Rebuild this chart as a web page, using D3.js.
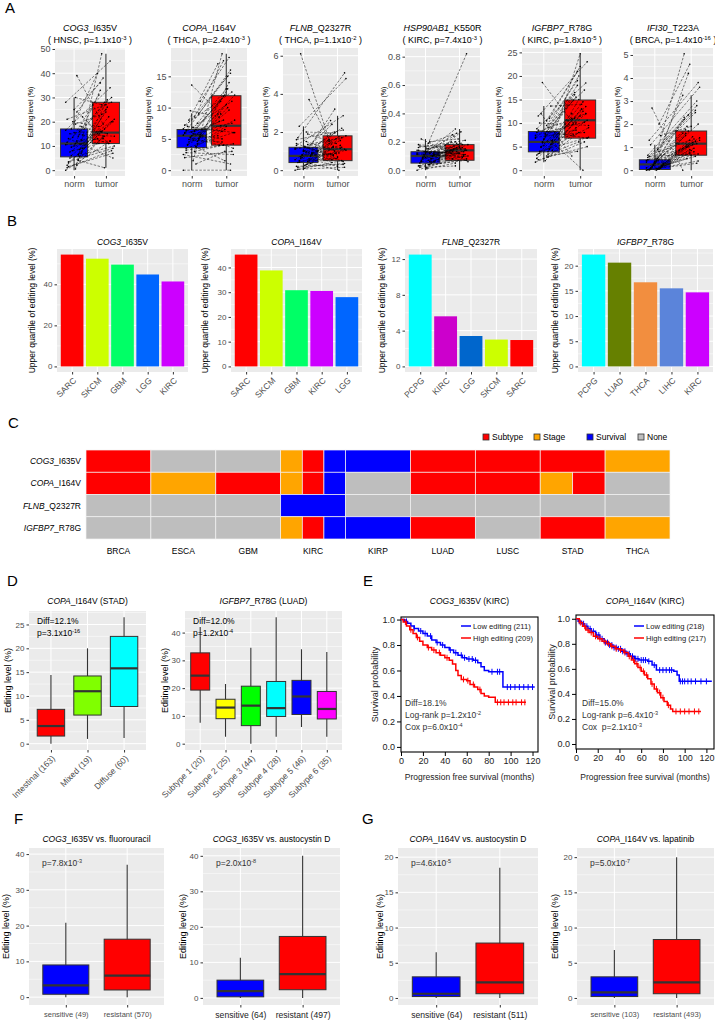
<!DOCTYPE html>
<html>
<head>
<meta charset="utf-8">
<script src="https://cdn.jsdelivr.net/npm/d3@7"></script>
<style>
  body { margin: 0; background: #fff; }
  text { white-space: pre; }
</style>
</head>
<body>
<div id="fig"></div>
<script>
// ---------- A: paired normal / tumour editing ----------
const aGenes = ["COG3", "COPA", "FLNB", "HSP90AB1", "IGFBP7", "IFI30"];
const aSites = ["_I635V", "_I164V", "_Q2327R", "_K550R", "_R78G", "_T223A"];
const aTumors = ["HNSC", "THCA", "THCA", "KIRC", "KIRC", "BRCA"];
const aPval = ["1.1x10^{-3}", "2.4x10^{-3}", "1.1x10^{-2}", "7.4x10^{-3}", "1.8x10^{-5}", "1.4x10^{-16}"];
const aTicks = [[0, 10, 20, 30, 40, 50], [0, 5, 10, 15], [0, 2, 4, 6], [0, 0.2, 0.4, 0.6, 0.8], [0, 5, 10, 15, 20, 25], [0, 1, 2, 3, 4, 5]];
// [lower whisker, q1, median, q3, upper whisker]
const aNormBox = [[0, 5.5, 11, 17, 30], [0, 3.6, 5.5, 6.5, 9.1], [0, 0.4, 0.75, 1.2, 2.3], [0, 0.05, 0.1, 0.13, 0.22], [1.7, 3.9, 6, 8.2, 13.6], [0, 0.03, 0.25, 0.45, 1.1]];
const aTumorBox = [[1, 11, 15.5, 28, 48], [0, 4, 7.1, 11.9, 18.6], [0, 0.5, 1.1, 1.8, 2.85], [0, 0.07, 0.14, 0.18, 0.29], [0, 6.8, 10.6, 14.9, 24.7], [0, 0.65, 1.15, 1.7, 3.25]];
const aNorm = [
  [0, 0.5, 1, 2, 3, 4, 5, 5.5, 6, 7, 8, 9, 10, 10.5, 11, 11.5, 12, 13, 14, 15, 16, 17, 18, 20, 22, 25, 28, 30, 2, 39,
   3.5, 6.5, 7.5, 8.5, 9.5, 12.5, 13.5, 14.5, 15.5, 16.5, 19, 21, 24, 1.5, 4.5],
  [0, 1.5, 2, 3, 3.5, 3.7, 4, 4.2, 4.5, 5, 5.2, 5.4, 5.5, 5.6, 5.8, 6, 6.2, 6.4, 6.5, 7, 7.5, 8, 9, 9.5, 11, 13.6, 2.5, 4.8, 5.9, 6.3,
   3.2, 3.8, 4.1, 4.6, 4.9, 5.1, 5.3, 5.7, 6.1, 6.6, 6.8, 7.2, 8.5, 2.8, 1],
  [0, 0.1, 0.2, 0.3, 0.4, 0.45, 0.5, 0.6, 0.7, 0.75, 0.8, 0.9, 1.0, 1.1, 1.2, 1.3, 1.5, 1.7, 1.9, 2.3, 3.7, 6.1, 0.35, 0.65, 0.85, 1.05, 0.55, 0.25, 1.4, 0.95,
   0.15, 0.32, 0.42, 0.52, 0.62, 0.72, 0.78, 0.88, 0.98, 1.15, 1.25, 1.6, 2.0, 0.05, 1.35],
  [0, 0.01, 0.03, 0.04, 0.05, 0.06, 0.07, 0.08, 0.09, 0.1, 0.1, 0.11, 0.12, 0.12, 0.13, 0.14, 0.15, 0.17, 0.2, 0.22, 0.05, 0.08, 0.1, 0.13, 0.06, 0.09, 0.11, 0.02, 0.16, 0.07,
   0.02, 0.04, 0.06, 0.08, 0.09, 0.1, 0.11, 0.12, 0.13, 0.14, 0.15, 0.18, 0.19, 0.03, 0.12],
  [1.7, 2, 2.5, 3, 3.5, 3.9, 4, 4.5, 5, 5.5, 6, 6, 6.5, 7, 7.5, 8, 8.2, 8.5, 9, 10, 11, 12, 13.6, 18.6, 4.2, 5.2, 6.8, 7.2, 3.2, 9.5,
   2.2, 2.8, 3.6, 4.4, 4.8, 5.4, 5.8, 6.3, 6.6, 7.4, 7.8, 8.8, 10.5, 11.5, 3.4],
  [0, 0, 0.02, 0.05, 0.05, 0.08, 0.1, 0.12, 0.15, 0.2, 0.25, 0.25, 0.3, 0.35, 0.4, 0.45, 0.5, 0.6, 0.8, 1.1, 1.5, 2.7, 0.18, 0.22, 0.3, 0.38, 0.1, 0.07, 0.55, 0.03,
   0.01, 0.04, 0.06, 0.09, 0.13, 0.16, 0.21, 0.27, 0.33, 0.42, 0.48, 0.65, 0.9, 1.3, 2.0]
];
const aTumor = [
  [12, 48, 8, 14, 20, 1, 10, 25, 15, 29, 11, 22, 33, 12, 16, 30, 13, 5, 28, 14, 27, 40, 15, 18, 11, 36, 45, 27, 20, 19,
   9, 17, 21, 24, 13, 26, 31, 11, 16, 34, 23, 28, 38, 7, 14],
  [0, 18.6, 3, 4, 6, 1.5, 12, 7, 9, 10, 4, 14, 7.1, 16, 5, 11, 8, 3.5, 12, 6, 13, 17, 15, 8.5, 18, 9, 1, 4.5, 7.5, 11.8,
   4.2, 6.5, 8, 10.5, 5.5, 13, 7.8, 9.6, 11, 15.5, 6.2, 12.5, 17.5, 2.5, 3],
  [0.5, 1.2, 0.3, 2.0, 1.1, 0.6, 1.8, 0.2, 1.5, 0.9, 2.6, 1.3, 0.4, 1.7, 0.8, 2.85, 1.0, 5.1, 1.4, 4.8, 0.7, 1.6, 0, 1.9, 1.15, 0.55, 2.2, 1.25, 0.45, 3.2,
   0.35, 0.9, 1.05, 0.65, 1.4, 1.75, 0.85, 1.55, 2.4, 1.2, 0.75, 2.1, 1.95, 0.15, 1.65],
  [0.1, 0.05, 0.14, 0.16, 0.82, 0.07, 0.18, 0.12, 0.2, 0.15, 0.25, 0.09, 0.17, 0.13, 0.29, 0.11, 0.19, 0.14, 0.22, 0.06, 0.16, 0.12, 0.27, 0.08, 0.18, 0.15, 0.1, 0.03, 0.21, 0.13,
   0.08, 0.12, 0.1, 0.17, 0.14, 0.19, 0.13, 0.16, 0.24, 0.11, 0.2, 0.15, 0.26, 0.07, 0.18],
  [6, 9, 12, 4, 10.6, 15, 7, 24.7, 11, 13, 14.9, 0, 16, 8, 10, 12, 18, 6.8, 20, 9.5, 22, 3, 14, 10, 12.5, 11, 17, 8.5, 13.5, 19,
   5, 8, 9, 11.5, 12, 13, 7.5, 14.5, 16.5, 10.2, 15.5, 18.5, 21, 23, 6],
  [0.6, 1.1, 0.3, 1.7, 2.0, 0.9, 1.4, 0.65, 3.25, 1.2, 5.05, 0.8, 1.6, 2.5, 1.0, 1.15, 4.2, 0.7, 1.3, 3.6, 1.9, 0, 1.45, 2.3, 0.95, 1.75, 1.25, 0.5, 2.8, 1.05,
   0.4, 0.75, 1.3, 0.85, 1.6, 1.1, 2.2, 1.35, 1.5, 2.6, 1.9, 3.0, 2.4, 3.8, 4.6]
];

// ---------- B: upper quartile per cancer ----------
const bTitles = ["*COG3*_I635V", "*COPA*_I164V", "*FLNB*_Q2327R", "*IGFBP7*_R78G"];
const bCancers = [["SARC", "SKCM", "GBM", "LGG", "KIRC"], ["SARC", "SKCM", "GBM", "KIRC", "LGG"], ["PCPG", "KIRC", "LGG", "SKCM", "SARC"], ["PCPG", "LUAD", "THCA", "LIHC", "KIRC"]];
const bValues = [[54.5, 52.5, 49.6, 44.8, 41.4], [45.2, 38.8, 30.8, 30.5, 28.0], [12.5, 5.6, 3.4, 3.0, 2.95], [22.2, 20.6, 16.7, 15.5, 14.7]];
const bTicks = [[0, 20, 40], [0, 10, 20, 30, 40], [0, 4, 8, 12], [0, 5, 10, 15, 20]];

// ---------- C: significant associations ----------
const cGenes = ["*COG3*_I635V", "*COPA*_I164V", "*FLNB*_Q2327R", "*IGFBP7*_R78G"];
const cCancers = ["BRCA", "ESCA", "GBM", "KIRC", "KIRP", "LUAD", "LUSC", "STAD", "THCA"];
const cCalls = [
  [["Subtype"], ["None"], ["None"], ["Stage", "Subtype", "Survival"], ["Survival"], ["Subtype"], ["Subtype"], ["Subtype"], ["Stage"]],
  [["Subtype"], ["Stage"], ["Subtype"], ["Stage", "Subtype", "Survival"], ["None"], ["Subtype"], ["Subtype"], ["Stage", "Subtype"], ["None"]],
  [["None"], ["None"], ["None"], ["Survival"], ["None"], ["None"], ["None"], ["None"], ["None"]],
  [["None"], ["None"], ["None"], ["Stage", "Subtype", "Survival"], ["Survival"], ["Subtype"], ["None"], ["Subtype"], ["Stage"]]
];
const cLegend = ["Subtype", "Stage", "Survival", "None"];

// ---------- D: editing by subtype ----------
const dLeftGroups = ["Intestinal (163)", "Mixed (19)", "Diffuse (60)"];
const dLeftBoxes = [[0, 1.6, 3.7, 7.2, 14.4], [1, 6, 11, 14.2, 20], [1.2, 7.8, 15.8, 22.5, 26.5]];
const dRightGroups = ["Subtype 1 (20)", "Subtype 2 (25)", "Subtype 3 (44)", "Subtype 4 (28)", "Subtype 5 (46)", "Subtype 6 (35)"];
const dRightBoxes = [[7.5, 19.3, 24.5, 32.7, 42], [2.5, 9, 13, 16, 21.5], [0, 6.5, 13.7, 20.7, 34.5], [2.5, 9.8, 12.8, 22.4, 45.5], [6, 10.5, 17, 22.8, 34], [2.5, 8.9, 12.5, 18.8, 33]];
const dText = [["Diff=12.1%", "p=3.1x10^{-16}"], ["Diff=12.0%", "p=1.2x10^{-4}"]];

// ---------- E: progression free survival ----------
const eTitles = ["*COG3*_I635V (KIRC)", "*COPA*_I164V (KIRC)"];
const eLegend = [["Low editing (211)", "High editing (209)"], ["Low editing (218)", "High editing (217)"]];
const eStats = [["Diff=18.1%", "Log-rank p=1.2x10^{-2}", "Cox p=6.0x10^{-4}"], ["Diff=15.0%", "Log-rank p=6.4x10^{-3}", "Cox  p=2.1x10^{-3}"]];
const eLowSteps = [
  [[0, 1], [3, 0.985], [6, 0.97], [9, 0.95], [12, 0.93], [16, 0.91], [20, 0.89], [24, 0.87], [28, 0.84], [32, 0.82], [36, 0.8], [40, 0.78], [44, 0.76], [48, 0.74], [52, 0.72], [56, 0.7], [60, 0.69], [66, 0.68], [70, 0.66], [73, 0.63], [76, 0.6], [80, 0.59], [93, 0.47]],
  [[0, 1], [2, 0.98], [5, 0.96], [8, 0.94], [11, 0.92], [14, 0.9], [18, 0.87], [22, 0.84], [26, 0.81], [30, 0.79], [34, 0.77], [38, 0.76], [42, 0.74], [46, 0.72], [50, 0.7], [54, 0.68], [58, 0.67], [66, 0.66], [70, 0.63], [74, 0.59], [90, 0.58], [93, 0.55], [95, 0.5]]
];
const eHighSteps = [
  [[0, 1], [2, 0.98], [5, 0.95], [8, 0.92], [11, 0.89], [14, 0.86], [17, 0.83], [20, 0.8], [24, 0.78], [28, 0.76], [32, 0.74], [36, 0.72], [40, 0.7], [44, 0.68], [47, 0.65], [50, 0.6], [52, 0.56], [55, 0.53], [60, 0.52], [63, 0.49], [67, 0.47], [70, 0.45], [73, 0.42], [76, 0.4], [80, 0.39], [86, 0.35]],
  [[0, 1], [3, 0.97], [6, 0.94], [9, 0.91], [12, 0.89], [16, 0.86], [20, 0.84], [24, 0.82], [28, 0.8], [32, 0.78], [36, 0.76], [40, 0.75], [44, 0.73], [48, 0.7], [51, 0.67], [54, 0.64], [57, 0.61], [60, 0.58], [63, 0.55], [66, 0.52], [69, 0.48], [72, 0.44], [75, 0.41], [78, 0.37], [81, 0.34], [84, 0.31], [87, 0.28], [89, 0.26]]
];
const eLowEnd = [122, 125];
const eHighEnd = [114, 115];
const eLowCensor = [
  [5, 12, 18, 22, 27, 33, 38, 45, 50, 55, 58, 62, 65, 68, 83, 88, 90, 97, 100, 104, 108, 112, 116, 120],
  [3, 7, 10, 13, 16, 19, 21, 24, 27, 29, 31, 33, 35, 37, 39, 41, 43, 45, 47, 49, 52, 55, 57, 60, 62, 64, 67, 72, 77, 80, 83, 86, 88, 96, 98, 100, 103, 106, 110, 115, 120]
];
const eHighCensor = [
  [4, 9, 15, 25, 30, 35, 42, 57, 61, 66, 72, 88, 91, 94, 98, 102, 105, 110, 113],
  [4, 8, 11, 14, 18, 22, 26, 30, 33, 37, 41, 45, 49, 53, 56, 59, 62, 65, 70, 74, 77, 80, 85, 92, 96, 100, 104, 109, 113]
];
const eXTicks = [0, 20, 40, 60, 80, 100, 120];
const eYTicks = [0, 0.2, 0.4, 0.6, 0.8, 1.0];

// ---------- F / G: drug response ----------
const fgTitles = ["*COG3*_I635V vs. fluorouracil", "*COG3*_I635V vs. austocystin D", "*COPA*_I164V vs. austocystin D", "*COPA*_I164V vs. lapatinib"];
const fgGroups = [["sensitive (49)", "resistant (570)"], ["sensitive (64)", "resistant (497)"], ["sensitive (64)", "resistant (511)"], ["sensitive (103)", "resistant (493)"]];
const fgBoxes = [
  [[0, 0.8, 3.3, 9, 20.8], [0, 2, 6, 16.2, 37]],
  [[0, 0.3, 1.9, 5, 11.3], [0, 2.3, 6.7, 17.3, 40]],
  [[0, 0.2, 0.6, 3, 6.5], [0, 0.6, 2.2, 7.8, 18.5]],
  [[0, 0.2, 0.8, 3, 6.8], [0, 0.6, 2.2, 8.3, 20]]
];
const fgP = ["p=7.8x10^{-3}", "p=2.0x10^{-8}", "p=4.6x10^{-5}", "p=5.0x10^{-7}"];
const fgTicks = [[0, 10, 20, 30, 40], [0, 10, 20, 30, 40], [0, 5, 10, 15, 20], [0, 5, 10, 15, 20]];
const fgDomains = [[-2.2, 41.7], [-2, 42.2], [-1, 21.3], [-1, 21.3]];

// ================= drawing =================
const RED = "#FF0000", BLUE = "#0000FF", ORANGE = "#FFA500", GREY = "#BEBEBE";

const svg = d3.select("#fig").append("svg")
  .attr("width", 715).attr("height", 1020)
  .style("font-family", '"Liberation Sans", Arial, sans-serif')
  .style("background", "#fff");

// "*x*" = italic, "^{x}" = superscript
function rich(t, str, size) {
  const parts = str.split(/(\*[^*]+\*|\^\{[^}]+\})/).filter(s => s.length);
  let up = false;
  parts.forEach(p => {
    const ts = t.append("tspan");
    if (p.startsWith("^{")) {
      ts.text(p.slice(2, -1)).attr("font-size", size * 0.65).attr("dy", -size * 0.38);
      up = true;
    } else {
      if (p.startsWith("*")) ts.text(p.slice(1, -1)).attr("font-style", "italic");
      else ts.text(p);
      if (up) { ts.attr("dy", size * 0.38); up = false; }
    }
  });
  return t;
}

function txt(g, x, y, str, size, anchor, rot, fill) {
  const t = g.append("text")
    .attr("x", x).attr("y", y)
    .attr("font-size", size)
    .attr("fill", fill || "#000")
    .attr("text-anchor", anchor || "start");
  if (rot) t.attr("transform", `rotate(${rot},${x},${y})`);
  return rich(t, str, size);
}

function styleAxis(ax, size, color) {
  ax.attr("font-family", null).attr("font-size", size);
  ax.select(".domain").remove();
  ax.selectAll(".tick line").attr("stroke", "#333");
  ax.selectAll(".tick text").attr("fill", color || "#4D4D4D");
}

// ggplot2 grey panel with grid and left axis
function ggPanel(g, x0, x1, y0, y1, y, ticks, xs, tickSize) {
  g.append("rect").attr("x", x0).attr("y", y0)
    .attr("width", x1 - x0).attr("height", y1 - y0).attr("fill", "#EBEBEB");
  const [d0, d1] = y.domain(), step = ticks[1] - ticks[0];
  const minor = d3.range(ticks[0] - step / 2, d1, step).filter(v => v > d0);
  const grid = (vals, w) => g.append("g").selectAll("line").data(vals).join("line")
    .attr("x1", x0).attr("x2", x1)
    .attr("y1", d => y(d)).attr("y2", d => y(d))
    .attr("stroke", "#fff").attr("stroke-width", w);
  grid(minor, 0.5);
  grid(ticks, 1);
  if (xs) g.append("g").selectAll("line").data(xs.domain()).join("line")
    .attr("x1", d => xs(d)).attr("x2", d => xs(d))
    .attr("y1", y0).attr("y2", y1)
    .attr("stroke", "#fff").attr("stroke-width", 1);
  const fmt = step < 1 ? d3.format(".1f") : d3.format("d");
  const ax = g.append("g").attr("transform", `translate(${x0},0)`)
    .call(d3.axisLeft(y).tickValues(ticks).tickFormat(fmt).tickSize(2.5).tickPadding(2));
  styleAxis(ax, tickSize);
}

function xAxis(g, xs, y1, size, rotate, pad) {
  const ax = g.append("g").attr("transform", `translate(0,${y1})`)
    .call(d3.axisBottom(xs).tickSize(2.5).tickPadding(pad || 2));
  styleAxis(ax, size);
  if (rotate) {
    ax.selectAll(".tick text")
      .attr("x", 0).attr("y", 0).attr("dy", "0.35em")
      .attr("text-anchor", "end")
      .attr("transform", `translate(2,7) rotate(-${rotate})`);
  }
  return ax;
}

function drawBoxes(g, xs, y, stats, colors, bw) {
  stats.forEach((s, i) => {
    const cx = xs(xs.domain()[i]);
    g.append("line").attr("x1", cx).attr("x2", cx)
      .attr("y1", y(s[0])).attr("y2", y(s[4]))
      .attr("stroke", "#333").attr("stroke-width", 1.1);
    g.append("rect").attr("x", cx - bw / 2).attr("y", y(s[3]))
      .attr("width", bw).attr("height", y(s[1]) - y(s[3]))
      .attr("fill", colors[i]).attr("stroke", "#333").attr("stroke-width", 1);
    g.append("line").attr("x1", cx - bw / 2).attr("x2", cx + bw / 2)
      .attr("y1", y(s[2])).attr("y2", y(s[2]))
      .attr("stroke", "#333").attr("stroke-width", 2.2);
  });
}

// panel letters
[["A", 5, 13], ["B", 7, 226], ["C", 8, 428], ["D", 7, 586], ["E", 363, 586], ["F", 14, 824], ["G", 362, 824]]
  .forEach(([l, x, y]) => svg.append("text").attr("x", x).attr("y", y).attr("font-size", 15).text(l));

// ----- A -----
const aPanelX = [[55, 125], [171, 247], [283, 358], [405, 480], [522, 602], [633, 713]];
const aYlabX = [33, 151, 268, 386, 501, 620];
const jit = j => ((j * 7) % 13 - 6) * 1.4;
aGenes.forEach((gene, i) => {
  const [x0, x1] = aPanelX[i], y0 = 48, y1 = 176;
  const g = svg.append("g");
  const M = d3.max([...aNorm[i], ...aTumor[i], aNormBox[i][4], aTumorBox[i][4]]);
  const y = d3.scaleLinear().domain([-0.05 * M, 1.05 * M]).range([y1, y0]);
  const xs = d3.scalePoint().domain(["norm", "tumor"]).range([x0, x1]).padding(0.6);
  ggPanel(g, x0, x1, y0, y1, y, aTicks[i], xs, 9);
  xAxis(g, xs, y1, 9);
  drawBoxes(g, xs, y, [aNormBox[i], aTumorBox[i]], [BLUE, RED], xs.step() * 0.85);
  const pairs = aNorm[i].map((v, j) => [v, aTumor[i][j]]);
  g.append("g").selectAll("line").data(pairs).join("line")
    .attr("x1", (d, j) => xs("norm") + jit(j)).attr("y1", d => y(d[0]))
    .attr("x2", (d, j) => xs("tumor") + jit(j + 5)).attr("y2", d => y(d[1]))
    .attr("stroke", "#000").attr("stroke-width", 0.5).attr("stroke-dasharray", "2.5,1.5");
  const pts = pairs.flatMap((d, j) => [[xs("norm") + jit(j), d[0]], [xs("tumor") + jit(j + 5), d[1]]]);
  g.append("g").selectAll("circle").data(pts).join("circle")
    .attr("cx", d => d[0]).attr("cy", d => y(d[1])).attr("r", 0.8).attr("fill", "#000");
  const cx = (x0 + x1) / 2;
  txt(g, cx, 31, `*${gene}*${aSites[i]}`, 9, "middle");
  txt(g, cx, 43, `( ${aTumors[i]}, p=${aPval[i]} )`, 9, "middle");
  txt(g, aYlabX[i], (y0 + y1) / 2, "Editing level (%)", 7, "middle", -90);
});

// ----- B -----
const bPanelX = [[57, 188], [231, 362], [405, 537], [578, 713]];
const bYlabX = [35, 208, 385, 558];
const bColors = [
  [RED, "#CCFF00", "#00FF66", "#0066FF", "#CC00FF"],
  [RED, "#CCFF00", "#00FF66", "#CC00FF", "#0066FF"],
  ["#00FFFF", "#CC00CC", "#0066CC", "#CCFF00", RED],
  ["#00FFFF", "#668000", "#F28E3F", "#5B84DA", "#CC00FF"]
];
bTitles.forEach((title, k) => {
  const [x0, x1] = bPanelX[k], y0 = 249, y1 = 372;
  const g = svg.append("g");
  const M = d3.max(bValues[k]);
  const y = d3.scaleLinear().domain([-0.05 * M, 1.05 * M]).range([y1, y0]);
  const xs = d3.scalePoint().domain(bCancers[k]).range([x0, x1]).padding(0.6);
  ggPanel(g, x0, x1, y0, y1, y, bTicks[k], xs, 8);
  xAxis(g, xs, y1, 8.5, 45);
  const bw = xs.step() * 0.9;
  g.append("g").selectAll("rect").data(bValues[k]).join("rect")
    .attr("x", (d, j) => xs(bCancers[k][j]) - bw / 2)
    .attr("y", d => y(d)).attr("width", bw).attr("height", d => y(0) - y(d))
    .attr("fill", (d, j) => bColors[k][j]);
  txt(g, (x0 + x1) / 2, 245, title, 8.5, "middle");
  txt(g, bYlabX[k], (y0 + y1) / 2, "Upper quartile of editing level (%)", 8.5, "middle", -90);
});

// ----- C -----
{
  const g = svg.append("g");
  const catColor = { Subtype: RED, Stage: ORANGE, Survival: BLUE, None: GREY };
  const cx = d3.scaleBand().domain(cCancers).range([86, 670]);
  const ry = d3.scaleBand().domain(cGenes).range([450, 539]);
  cGenes.forEach((gene, r) => {
    cCancers.forEach((ca, c) => {
      const calls = cCalls[r][c], w = cx.bandwidth() / calls.length;
      calls.forEach((k, m) => {
        g.append("rect")
          .attr("x", cx(ca) + m * w).attr("y", ry(gene))
          .attr("width", w).attr("height", ry.bandwidth())
          .attr("fill", catColor[k]).attr("stroke", "#f2f2f2").attr("stroke-width", 0.7);
      });
    });
    txt(g, 81, ry(gene) + ry.bandwidth() / 2 + 3, gene, 8.5, "end");
  });
  cCancers.forEach(ca => txt(g, cx(ca) + cx.bandwidth() / 2, 554, ca, 8.5, "middle"));
  const legX = [483, 534, 587, 638];
  cLegend.forEach((k, i) => {
    g.append("rect").attr("x", legX[i]).attr("y", 434).attr("width", 6).attr("height", 6)
      .attr("fill", catColor[k]).attr("stroke", "#333").attr("stroke-width", 0.8);
    txt(g, legX[i] + 9, 440, k, 8.5, "start");
  });
}

// ----- D -----
function subtypePlot(x0, x1, groups, boxes, colors, ticks, title, texts, ylabX) {
  const y0 = 611, y1 = 750;
  const g = svg.append("g");
  const M = d3.max(boxes, b => b[4]);
  const y = d3.scaleLinear().domain([-0.05 * M, 1.05 * M]).range([y1, y0]);
  const xs = d3.scalePoint().domain(groups).range([x0, x1]).padding(0.6);
  ggPanel(g, x0, x1, y0, y1, y, ticks, xs, 8);
  xAxis(g, xs, y1, 8.5, 45);
  drawBoxes(g, xs, y, boxes, colors, xs.step() * 0.75);
  txt(g, (x0 + x1) / 2, 604, title, 8.5, "middle");
  txt(g, x0 + 8, 624, texts[0], 8.5);
  txt(g, x0 + 8, 636, texts[1], 8.5);
  txt(g, ylabX, (y0 + y1) / 2, "Editing level (%)", 9, "middle", -90);
}
subtypePlot(29, 146, dLeftGroups, dLeftBoxes, [RED, "#80FF00", "#00FFFF"], [0, 5, 10, 15, 20, 25],
  "*COPA*_I164V (STAD)", dText[0], 11);
subtypePlot(185, 342, dRightGroups, dRightBoxes, [RED, "#FFFF00", "#00FF00", "#00FFFF", BLUE, "#FF00FF"], [0, 10, 20, 30, 40],
  "*IGFBP7*_R78G (LUAD)", dText[1], 168);

// ----- E -----
const ePanels = [
  { x: [401, 538], xd: [0, 125], y: [752, 617], yd: [-0.04, 1.02], lab: 378, leg: 461, st: 405 },
  { x: [576, 714], xd: [0, 127], y: [749, 615], yd: [-0.04, 1.03], lab: 555, leg: 634, st: 582 }
];
function survAt(steps, t) {
  let s = 1;
  steps.forEach(([tt, v]) => { if (tt <= t) s = v; });
  return s;
}
ePanels.forEach((p, k) => {
  const g = svg.append("g");
  const x = d3.scaleLinear().domain(p.xd).range(p.x);
  const y = d3.scaleLinear().domain(p.yd).range(p.y);
  const ax = g.append("g").attr("transform", `translate(${p.x[0]},0)`)
    .call(d3.axisLeft(y).tickValues(eYTicks).tickFormat(d3.format(".1f")).tickSize(4).tickPadding(2));
  styleAxis(ax, 9, "#222");
  ax.selectAll(".tick line").attr("stroke", "#000");
  const bx = g.append("g").attr("transform", `translate(0,${p.y[0]})`)
    .call(d3.axisBottom(x).tickValues(eXTicks).tickSize(4).tickPadding(2));
  styleAxis(bx, 9, "#222");
  bx.selectAll(".tick line").attr("stroke", "#000");
  g.append("rect").attr("x", p.x[0]).attr("y", p.y[1])
    .attr("width", p.x[1] - p.x[0]).attr("height", p.y[0] - p.y[1])
    .attr("fill", "none").attr("stroke", "#000").attr("stroke-width", 1.1);
  const line = d3.line().x(d => x(d[0])).y(d => y(d[1])).curve(d3.curveStepAfter);
  const curves = [
    { steps: eLowSteps[k], end: eLowEnd[k], cens: eLowCensor[k], col: BLUE },
    { steps: eHighSteps[k], end: eHighEnd[k], cens: eHighCensor[k], col: RED }
  ];
  curves.forEach(c => {
    const pts = [...c.steps, [c.end, c.steps[c.steps.length - 1][1]]];
    g.append("path").attr("d", line(pts)).attr("fill", "none")
      .attr("stroke", c.col).attr("stroke-width", 1.5);
    g.append("g").selectAll("line").data(c.cens).join("line")
      .attr("x1", d => x(d)).attr("x2", d => x(d))
      .attr("y1", d => y(survAt(c.steps, d)) - 3).attr("y2", d => y(survAt(c.steps, d)) + 3)
      .attr("stroke", c.col).attr("stroke-width", 1);
  });
  eLegend[k].forEach((l, i) => {
    const ly = 626 + i * 12;
    g.append("line").attr("x1", p.leg).attr("x2", p.leg + 10).attr("y1", ly).attr("y2", ly)
      .attr("stroke", i ? RED : BLUE).attr("stroke-width", 1.5);
    txt(g, p.leg + 12, ly + 3, l, 7.6, "start", 0, "#222");
  });
  eStats[k].forEach((s, i) => txt(g, p.st, 706 + i * 12, s, 8.5, "start", 0, "#333"));
  txt(g, (p.x[0] + p.x[1]) / 2, 604, eTitles[k], 8.5, "middle");
  txt(g, (p.x[0] + p.x[1]) / 2, 780, "Progression free survival (months)", 8.5, "middle", 0, "#222");
  txt(g, p.lab, (p.y[0] + p.y[1]) / 2, "Survival probability", 9, "middle", -90, "#222");
});

// ----- F / G -----
const fgPanelX = [[29, 164], [203, 340], [398, 538], [577, 714]];
const fgYlabX = [9, 186, 383, 558];
const fgLabelSize = [7.5, 8.6, 8.6, 7.5];
fgTitles.forEach((title, k) => {
  const [x0, x1] = fgPanelX[k], y0 = 848, y1 = 1005;
  const g = svg.append("g");
  const y = d3.scaleLinear().domain(fgDomains[k]).range([y1, y0]);
  const xs = d3.scalePoint().domain(fgGroups[k]).range([x0, x1]).padding(0.6);
  ggPanel(g, x0, x1, y0, y1, y, fgTicks[k], xs, 8);
  const ax = xAxis(g, xs, y1, fgLabelSize[k], 0, 4);
  if (fgLabelSize[k] > 8) ax.selectAll(".tick text").attr("fill", "#222");
  drawBoxes(g, xs, y, fgBoxes[k], [BLUE, RED], xs.step() * 0.75);
  txt(g, (x0 + x1) / 2, 842, title, 8.5, "middle");
  txt(g, x0 + 13, 866, fgP[k], 8.5, "start", 0, "#333");
  txt(g, fgYlabX[k], (y0 + y1) / 2, "Editing level (%)", 9, "middle", -90);
});
</script>
</body>
</html>
